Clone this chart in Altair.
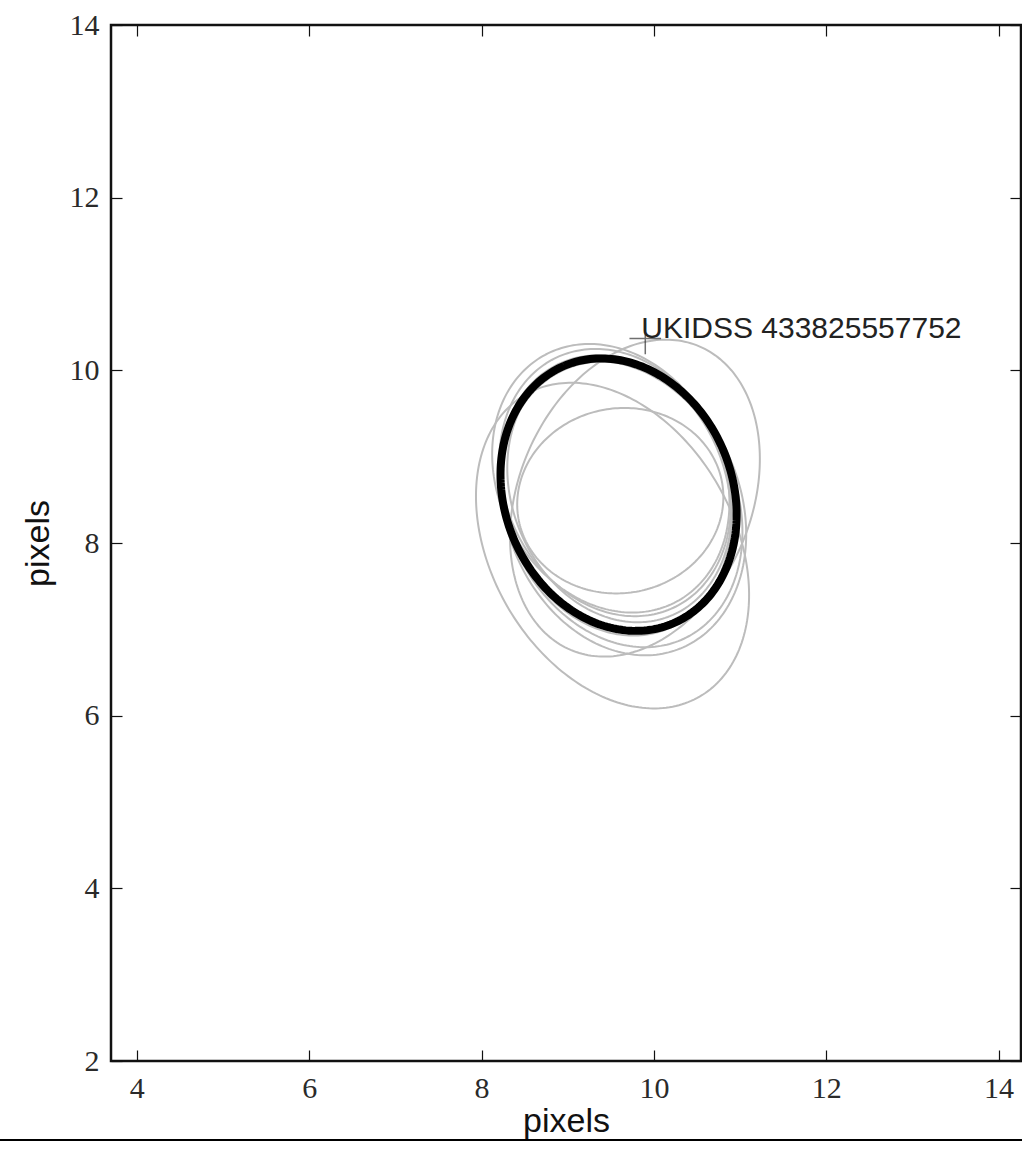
import altair as alt
import numpy as np
import pandas as pd

# ---- ellipse parameters (data units: pixels) ----
ell_id = ["g1", "g2", "g3", "g4", "g5", "g6", "B", "C", "D", "best"]
ell_cx = [9.55, 9.50, 9.60, 9.62, 9.65, 9.55, 9.52, 9.78, 9.61, 9.59]
ell_cy = [8.70, 8.75, 8.62, 8.45, 8.40, 8.55, 7.97, 8.52, 8.49, 8.56]
ell_a = [1.60, 1.62, 1.58, 1.72, 1.75, 1.66, 2.02, 1.91, 1.20, 1.62]
ell_b = [1.28, 1.30, 1.25, 1.33, 1.36, 1.30, 1.41, 1.35, 1.07, 1.32]
ell_ang = [115, 118, 112, 115, 112, 110, 120, 67, 10, 113]
ell_kind = ["gray"] * 9 + ["best"]

# annotation
ann_x = [9.90]
ann_y = [10.37]
ann_label = ["UKIDSS 433825557752"]

x_ticks = [4, 6, 8, 10, 12, 14]
y_ticks = [2, 4, 6, 8, 10, 12, 14]

rows = []
t = np.linspace(0, 2 * np.pi, 241)
for i, name in enumerate(ell_id):
    th = np.deg2rad(ell_ang[i])
    xs = ell_cx[i] + ell_a[i] * np.cos(t) * np.cos(th) - ell_b[i] * np.sin(t) * np.sin(th)
    ys = ell_cy[i] + ell_a[i] * np.cos(t) * np.sin(th) + ell_b[i] * np.sin(t) * np.cos(th)
    for k in range(len(t)):
        rows.append({"id": name, "kind": ell_kind[i], "k": k, "x": xs[k], "y": ys[k]})
df = pd.DataFrame(rows)
ann = pd.DataFrame({"x": ann_x, "y": ann_y, "label": ann_label})

W, H = 910, 1036
xs_scale = alt.Scale(domain=[3.70, 14.26], nice=False, zero=False)
ys_scale = alt.Scale(domain=[2, 14], nice=False, zero=False)

main_x = alt.Axis(values=x_ticks, format="d", tickSize=0, labelPadding=12,
                  labelFont="Liberation Serif", labelFontSize=30, labelColor="#2a2a2a",
                  labelFlush=False, labelOverlap=False, domain=False, grid=False,
                  title="pixels", titleFont="Liberation Sans", titleFontSize=34,
                  titleFontWeight="normal", titleColor="#111", titlePadding=1)
main_y = alt.Axis(values=y_ticks, format="d", tickSize=0, labelPadding=12,
                  labelFont="Liberation Serif", labelFontSize=30, labelColor="#2a2a2a",
                  labelFlush=False, labelOverlap=False, domain=False, grid=False,
                  title="pixels", titleFont="Liberation Sans", titleFontSize=34,
                  titleFontWeight="normal", titleColor="#111", titlePadding=14)


def tick_axis(orient, values, offset):
    return alt.Axis(orient=orient, offset=offset, values=values, tickSize=11,
                    tickColor="#111", tickWidth=1.2, labels=False, domain=False,
                    grid=False, title=None)


gray = alt.Chart(df[df["kind"] == "gray"]).mark_line(
    color="#bcbcbc", strokeWidth=2
).encode(
    x=alt.X("x:Q", scale=xs_scale, axis=main_x),
    y=alt.Y("y:Q", scale=ys_scale, axis=main_y),
    detail="id:N",
    order="k:Q",
)

best = alt.Chart(df[df["kind"] == "best"]).mark_line(
    color="black", strokeWidth=8
).encode(
    x=alt.X("x:Q", scale=xs_scale, axis=tick_axis("top", x_ticks, -H)),
    y=alt.Y("y:Q", scale=ys_scale, axis=tick_axis("right", y_ticks, -W)),
    order="k:Q",
)

marker = alt.Chart(ann).mark_point(
    shape="M-1,0L1,0M0,-1L0,1", size=1000, stroke="#333", strokeWidth=1.5, filled=False
).encode(
    x=alt.X("x:Q", scale=xs_scale, axis=tick_axis("bottom", x_ticks, -H)),
    y=alt.Y("y:Q", scale=ys_scale, axis=tick_axis("left", y_ticks, -W)),
)

label = alt.Chart(ann).mark_text(
    align="left", baseline="alphabetic", dx=-4, dy=0,
    font="Liberation Sans", fontSize=30, color="#222"
).encode(
    x=alt.X("x:Q", scale=xs_scale, axis=None),
    y=alt.Y("y:Q", scale=ys_scale, axis=None),
    text="label:N",
)

bottom_line = alt.Chart(ann).mark_rule(color="black", strokeWidth=2, clip=False).encode(
    x=alt.value(-111), x2=alt.value(W + 2), y=alt.value(1115)
)

chart = alt.layer(gray, best, marker, label, bottom_line).resolve_axis(
    x="independent", y="independent"
).properties(
    width=W, height=H,
    autosize=alt.AutoSizeParams(type="none"),
    padding={"left": 111, "top": 25, "right": 1, "bottom": 88},
    background="white",
).configure_view(stroke="#111", strokeWidth=2.5)

chart.save("out.html", embed_options={"renderer": "svg", "actions": False})
